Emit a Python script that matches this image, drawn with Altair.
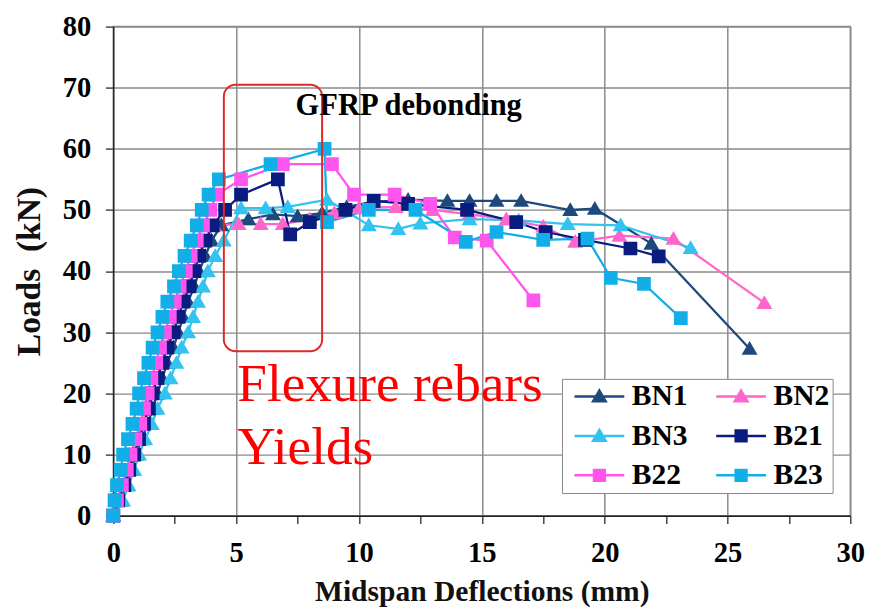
import altair as alt
import pandas as pd

# legend fills column by column, so the domain is listed in that order
series_names = ["BN1", "BN3", "B22", "BN2", "B21", "B23"]
series_colors = ["#1F497D", "#33C3F0", "#FF55EE", "#FF66CC", "#0B1C80", "#12AEE8"]

# Midspan deflection (mm) and load (kN)
bn1_x = [0, 0.3, 0.55, 0.75, 0.95, 1.15, 1.4, 1.6, 1.8, 2.0, 2.2, 2.45, 2.65, 2.85, 3.05, 3.3, 3.5, 3.75, 4.0, 4.4,
         5.5, 6.5, 7.5, 8.5, 9.5, 10.5, 12.0, 13.6, 14.5, 15.6, 16.6, 18.6, 19.6, 21.9, 25.9]
bn1_y = [0, 2.5, 5, 7.5, 10, 12.5, 15, 17.5, 20, 22.5, 25, 27.5, 30, 32.5, 35, 37.5, 40, 42.5, 45, 47.5,
         48.5, 49.3, 49.0, 49.5, 50.5, 51.3, 51.7, 51.5, 51.5, 51.5, 51.5, 50.0, 50.2, 44.5, 27.3]

bn2_x = [0, 0.2, 0.4, 0.6, 0.8, 1.0, 1.2, 1.35, 1.55, 1.75, 1.95, 2.15, 2.35, 2.55, 2.75, 3.0, 3.2, 3.45, 3.7, 4.1,
         5.1, 6.0, 6.9, 8.0, 9.0, 10.0, 11.5, 13.0, 14.5, 16.0, 17.5, 18.8, 20.6, 22.8, 26.5]
bn2_y = [0, 2.5, 5, 7.5, 10, 12.5, 15, 17.5, 20, 22.5, 25, 27.5, 30, 32.5, 35, 37.5, 40, 42.5, 45, 47.5,
         47.7, 47.7, 47.7, 48.5, 49.5, 50.3, 50.5, 50.0, 49.3, 48.5, 47.3, 44.8, 45.8, 45.3, 34.8]

bn3_x = [0, 0.4, 0.62, 0.85, 1.05, 1.3, 1.57, 1.8, 2.1, 2.33, 2.57, 2.78, 3.05, 3.25, 3.45, 3.65, 3.85, 4.15, 4.5,
         5.2, 6.2, 7.1, 8.7, 10.4, 11.6, 12.5, 14.5, 16.5, 18.5, 20.65, 23.5]
bn3_y = [0, 2.5, 5, 7.5, 10, 12.5, 15, 17.5, 20, 22.5, 25, 27.5, 30, 32.5, 35, 37.5, 40, 42.5, 45,
         50.3, 50.3, 50.5, 51.7, 47.5, 46.9, 47.8, 48.5, 48.3, 47.7, 47.5, 43.8]

b21_x = [0, 0.2, 0.45, 0.65, 0.85, 1.05, 1.25, 1.45, 1.6, 1.8, 2.0, 2.2, 2.45, 2.65, 2.85, 3.1, 3.3, 3.5, 3.75, 4.05,
         4.55, 5.2, 6.7, 7.2, 8.0, 9.45, 10.6, 12.0, 14.4, 16.4, 17.6, 19.2, 21.05, 22.2]
b21_y = [0, 2.5, 5, 7.5, 10, 12.5, 15, 17.5, 20, 22.5, 25, 27.5, 30, 32.5, 35, 37.5, 40, 42.5, 45, 47.5,
         50.0, 52.5, 55.0, 46.0, 48.0, 50.0, 51.5, 51.0, 50.0, 48.0, 46.4, 45.1, 43.7, 42.4]

b22_x = [0, 0.15, 0.35, 0.55, 0.7, 0.9, 1.1, 1.25, 1.4, 1.55, 1.75, 1.9, 2.1, 2.3, 2.5, 2.7, 2.95, 3.15, 3.4, 3.65, 3.95, 4.2,
         5.2, 6.9, 8.9, 9.8, 11.45, 12.9, 13.9, 15.2, 17.1]
b22_y = [0, 2.5, 5, 7.5, 10, 12.5, 15, 17.5, 20, 22.5, 25, 27.5, 30, 32.5, 35, 37.5, 40, 42.5, 45, 47.5, 50, 52.5,
         55.0, 57.5, 57.5, 52.5, 52.5, 51.0, 45.5, 45.0, 35.2]

b23_x = [0, 0.05, 0.15, 0.3, 0.4, 0.6, 0.78, 0.95, 1.05, 1.25, 1.43, 1.6, 1.8, 2.0, 2.2, 2.47, 2.67, 2.9, 3.15, 3.4, 3.6, 3.88, 4.3,
         6.4, 8.6, 8.7, 10.4, 12.3, 14.35, 15.6, 17.5, 19.3, 20.25, 21.6, 23.1]
b23_y = [0, 2.5, 5, 7.5, 10, 12.5, 15, 17.5, 20, 22.5, 25, 27.5, 30, 32.5, 35, 37.5, 40, 42.5, 45, 47.5, 50, 52.5, 55,
         57.5, 60.0, 48.0, 50.0, 50.0, 44.8, 46.4, 45.1, 45.3, 38.9, 37.9, 32.3]

# annotations
box_x = [4.5, 8.5]
box_y = [26.9, 70.5]
note_text = ["GFRP debonding"]
note_x = [7.42]
note_y = [65.6]
red_text = ["Flexure rebars", "Yields"]
red_x = [5.05, 5.05]
red_y = [18.7, 8.5]

x_ticks = [0, 2.5, 5, 7.5, 10, 12.5, 15, 17.5, 20, 22.5, 25, 27.5, 30]
y_ticks = [0, 5, 10, 15, 20, 25, 30, 35, 40, 45, 50, 55, 60, 65, 70, 75, 80]

draw_order = ["BN1", "BN2", "BN3", "B21", "B22", "B23"]
data_by_series = {
    "BN1": (bn1_x, bn1_y), "BN2": (bn2_x, bn2_y), "BN3": (bn3_x, bn3_y),
    "B21": (b21_x, b21_y), "B22": (b22_x, b22_y), "B23": (b23_x, b23_y),
}
rows = []
for name in draw_order:
    xs, ys = data_by_series[name]
    for i, (a, b) in enumerate(zip(xs, ys)):
        rows.append({"series": name, "defl": a, "load": b, "idx": i})
df = pd.DataFrame(rows)

# shapes: a zero-area line segment (visible only when stroked, i.e. in the legend) plus the marker
tri = "M-2.3,0H2.3M0,-0.56L0.58,0.44L-0.58,0.44Z"
sq = "M-2.3,0H2.3M-0.5,-0.5H0.5V0.5H-0.5Z"
shape_map = {"BN1": tri, "BN2": tri, "BN3": tri, "B21": sq, "B22": sq, "B23": sq}
shape_paths = [shape_map[s] for s in series_names]

SERIF = "Liberation Serif"

legend = alt.Legend(
    title=None, orient="none", legendX=456, legendY=358, columns=2,
    labelFont=SERIF, labelFontSize=30, labelFontWeight="bold", labelColor="black",
    labelBaseline="middle",
    symbolSize=484, symbolStrokeWidth=2.5, symbolOffset=20, labelOffset=18,
    columnPadding=19, rowPadding=10, padding=3,
    strokeColor="#888888", fillColor="white",
)

x_axis = alt.Axis(
    values=x_ticks, title="Midspan Deflections (mm)",
    labelExpr="datum.value % 5 == 0 ? datum.label : ''",
    gridOpacity={"condition": {"test": "datum.value % 5 == 0 && datum.value > 0", "value": 1}, "value": 0},
    labelOverlap=False, labelFlush=False,
)
y_axis = alt.Axis(
    values=y_ticks, title="Loads\u00a0\u00a0(kN)",
    labelExpr="datum.value % 10 == 0 ? datum.label : ''",
    gridOpacity={"condition": {"test": "datum.value % 10 == 0 && datum.value > 0", "value": 1}, "value": 0},
    labelOverlap=False, labelFlush=False,
)

x_enc = alt.X("defl:Q", scale=alt.Scale(domain=[0, 30], nice=False, zero=False), axis=x_axis)
y_enc = alt.Y("load:Q", scale=alt.Scale(domain=[0, 80], nice=False), axis=y_axis)
color_enc = alt.Color("series:N", scale=alt.Scale(domain=series_names, range=series_colors),
                      sort=series_names, legend=legend)
shape_enc = alt.Shape("series:N", scale=alt.Scale(domain=series_names, range=shape_paths),
                      sort=series_names, legend=legend)

lines = alt.Chart(df).mark_line(strokeWidth=2.3).encode(
    x=x_enc, y=y_enc, color=color_enc, order="idx:Q"
)
points = alt.Chart(df).mark_point(filled=True, size=780, opacity=1).encode(
    x=x_enc, y=y_enc, color=color_enc, shape=shape_enc
)

box_df = pd.DataFrame({"x1": [box_x[0]], "x2": [box_x[1]], "y1": [box_y[0]], "y2": [box_y[1]]})
box = alt.Chart(box_df).mark_rect(fillOpacity=0, stroke="#E02828", strokeWidth=2, cornerRadius=12).encode(
    x="x1:Q", x2="x2:Q", y="y1:Q", y2="y2:Q"
)

note_df = pd.DataFrame({"t": note_text, "x": note_x, "y": note_y})
note = alt.Chart(note_df).mark_text(font=SERIF, fontSize=31, fontWeight="bold", color="black",
                                     align="left", baseline="alphabetic").encode(
    x="x:Q", y="y:Q", text="t:N"
)
red_df = pd.DataFrame({"t": red_text, "x": red_x, "y": red_y})
red = alt.Chart(red_df).mark_text(font=SERIF, fontSize=54, color="#FF0000",
                                   align="left", baseline="alphabetic").encode(
    x="x:Q", y="y:Q", text="t:N"
)

chart = alt.layer(lines, points, box, note, red).properties(
    width=749, height=497,
    padding={"left": 5, "top": 0, "right": 5, "bottom": 0},
).configure_view(stroke="#8A8A8A", strokeWidth=1.5).configure_axis(
    labelFont=SERIF, labelFontSize=29, labelFontWeight="bold", labelColor="black",
    titleFont=SERIF, titleFontWeight="bold", titleColor="#111111",
    gridColor="#8A8A8A", gridWidth=1.5,
    domainColor="#222222", domainWidth=1.5,
    tickColor="#444444", tickWidth=1.5, tickSize=8,
).configure_axisX(labelPadding=16, titlePadding=9, titleFontSize=30).configure_axisY(
    labelPadding=15, titlePadding=16, titleFontSize=34)

chart.save("out.html", embed_options={"renderer": "svg", "actions": False})
